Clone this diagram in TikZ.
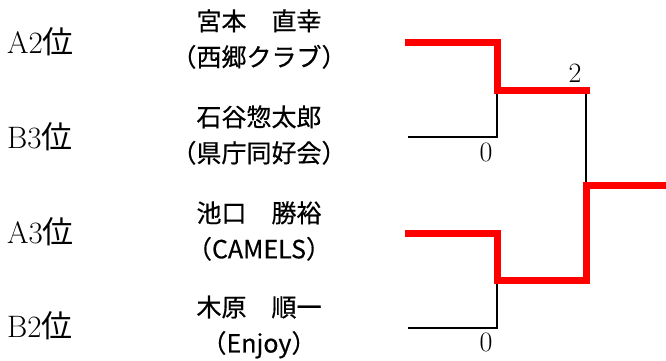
\documentclass[tikz,border=0pt]{standalone}
\usepackage{fontspec}
\newfontfamily\cjk[FakeBold=0.5]{Noto Sans CJK JP}
\newfontfamily\cjkseed{Noto Sans CJK JP}
\begin{document}
\begin{tikzpicture}[x=1pt,y=-1pt,
  win/.style={draw=red,line width=7pt,line cap=rect,line join=miter},
  lose/.style={draw=black,line width=2.5pt,line join=miter},
  seed/.style={anchor=west,inner sep=0pt,font=\fontsize{31}{31}\selectfont},
  team/.style={align=center,inner sep=0pt,font=\cjk\fontsize{25}{36}\selectfont},
  score/.style={inner sep=0pt,font=\fontsize{28}{28}\selectfont}]
\useasboundingbox (0,0) rectangle (666,360);
% seeds
\node[seed] (sa2) at (7,42) {A2{\cjkseed\fontsize{31}{31}\selectfont 位}};
\node[seed] (sb3) at (7,137) {B3{\cjkseed\fontsize{31}{31}\selectfont 位}};
\node[seed] (sa3) at (7,232) {A3{\cjkseed\fontsize{31}{31}\selectfont 位}};
\node[seed] (sb2) at (7,326) {B2{\cjkseed\fontsize{31}{31}\selectfont 位}};
% teams
\node[team] (t1) at (259,39) {宮本　直幸\\（西郷クラブ）};
\node[team] (t2) at (259,135) {石谷惣太郎\\（県庁同好会）};
\node[team] (t3) at (259,231) {池口　勝裕\\（CAMELS）};
\node[team] (t4) at (259,327) {木原　順一\\（Enjoy）};
% bracket points
\coordinate (p1) at (408,42);
\coordinate (p2) at (408,137);
\coordinate (p3) at (408,233);
\coordinate (p4) at (408,328);
\coordinate (m1) at (497,90);
\coordinate (m2) at (497,280);
\coordinate (f1) at (586,90);
\coordinate (f2) at (586,280);
\coordinate (fc) at (586,185);
\coordinate (w) at (666,185);
% losers
\draw[lose] (p2) -| (m1);
\draw[lose] (p4) -| (m2);
\draw[lose] (f1) -- (fc);
% winners
\draw[win] (p1) -| (m1) -- (f1);
\draw[win] (p3) -| (m2) -- (f2) -- (fc) -- (w);
% scores
\node[score] (s1) at (486,152) {0};
\node[score] (s2) at (575,73) {2};
\node[score] (s3) at (486,342) {0};
\end{tikzpicture}
\end{document}
